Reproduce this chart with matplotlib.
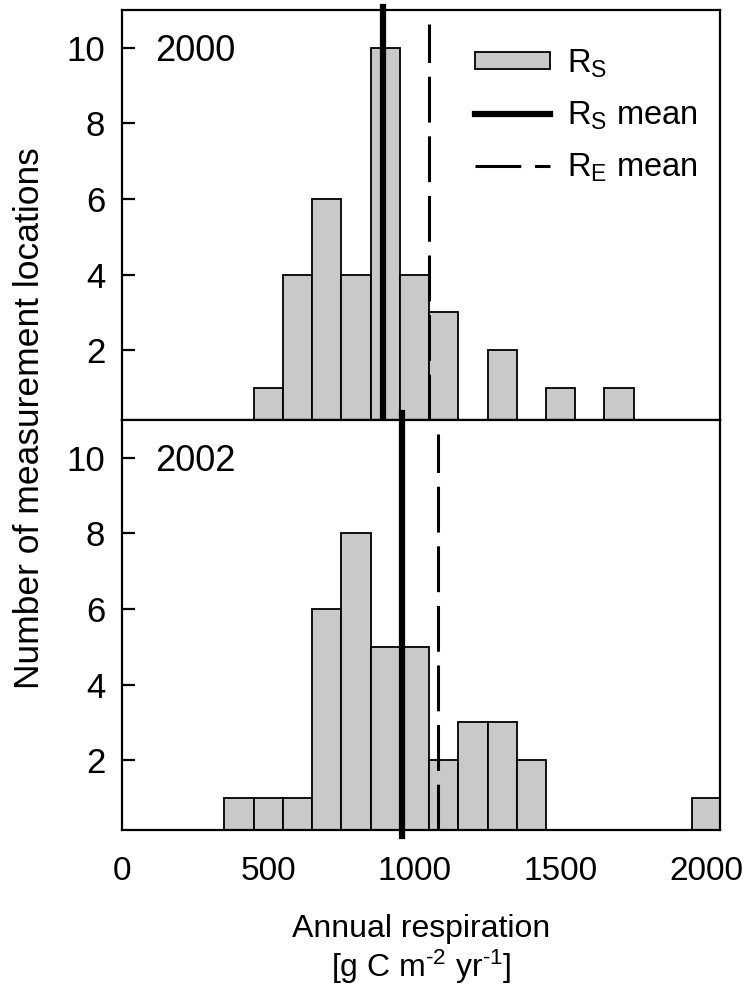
import numpy as np
import matplotlib
matplotlib.use("Agg")
import matplotlib.pyplot as plt
from matplotlib.patches import Patch
from matplotlib.lines import Line2D

plt.rcParams['font.family'] = ['Liberation Sans', 'DejaVu Sans']
plt.rcParams['mathtext.fontset'] = 'custom'
plt.rcParams['mathtext.rm'] = 'Liberation Sans'
plt.rcParams['mathtext.it'] = 'Liberation Sans:italic'

# ---- data ----
bins_2000 = [500, 600, 700, 800, 900, 1000, 1100, 1200, 1300, 1400, 1500, 1600, 1700]
counts_2000 = [1, 4, 6, 4, 10, 4, 3, 0, 2, 0, 1, 0, 1]
rs_mean_2000 = 892
re_mean_2000 = 1051

bins_2002 = [400, 500, 600, 700, 800, 900, 1000, 1100, 1200, 1300, 1400,
             1500, 1600, 1700, 1800, 1900, 2000]
counts_2002 = [1, 1, 1, 6, 8, 5, 5, 2, 3, 3, 2, 0, 0, 0, 0, 0, 1]
rs_mean_2002 = 956
re_mean_2002 = 1081

years = ['2000', '2002']
bin_width = 100
yticks = [2, 4, 6, 8, 10]
xticks = [0, 500, 1000, 1500, 2000]

bar_color = '#c9c9c9'

W, H = 747, 994
fig = plt.figure(figsize=(W / 100, H / 100), dpi=100)
ax1 = fig.add_axes([122 / W, 1 - 420 / H, 598 / W, 410 / H])
ax2 = fig.add_axes([122 / W, 1 - 830 / H, 598 / W, 410 / H])

panels = [
    (ax1, bins_2000, counts_2000, rs_mean_2000, re_mean_2000, years[0]),
    (ax2, bins_2002, counts_2002, rs_mean_2002, re_mean_2002, years[1]),
]

for ax, b, c, rs, re_, yr in panels:
    ax.bar(b, c, width=bin_width, color=bar_color, edgecolor='black',
           linewidth=1.3, zorder=2)
    ax.axvline(re_, ymin=0, ymax=0.965, color='black', lw=2.2,
               dashes=(15, 4.5), zorder=3)
    ax.set_xlim(0, 2045)
    ax.set_ylim(0.15, 11)
    ax.set_yticks(yticks)
    ax.set_xticks(xticks)
    ax.tick_params(axis='y', direction='in', length=9, width=1.6,
                   labelsize=25, pad=12)
    ax.tick_params(axis='x', length=0, labelsize=24, pad=19)
    for sp in ax.spines.values():
        sp.set_linewidth(1.6)
    ax.text(0.055, 0.876, yr, transform=ax.transAxes, fontsize=26,
            ha='left', va='baseline')

# soil respiration means (thick, poke slightly past the frame)
ax1.axvline(rs_mean_2000, ymin=0, ymax=1.008, color='black', lw=4.5,
            zorder=4, clip_on=False)
ax2.axvline(rs_mean_2002, ymin=-0.015, ymax=1.017, color='black', lw=4.5,
            zorder=4, clip_on=False)

ax1.tick_params(axis='x', labelbottom=False)

ax2.set_xlabel('Annual respiration\n[g C m$^{\\text{-2}}$ yr$^{\\text{-1}}$]',
               fontsize=23, labelpad=19, linespacing=1.15)

fig.text(30 / W, 1 - 418 / H, 'Number of measurement locations',
         rotation=90, ha='center', va='center', fontsize=25.5)

handles = [
    Patch(facecolor=bar_color, edgecolor='black', linewidth=1.3),
    Line2D([], [], color='black', lw=4.5),
    Line2D([], [], color='black', lw=2.2, dashes=(15, 4.5)),
]
labels = ['R$_\\mathrm{S}$', 'R$_\\mathrm{S}$ mean', 'R$_\\mathrm{E}$ mean']
ax1.legend(handles, labels, loc='upper right', bbox_to_anchor=(1.0, 0.965),
           frameon=False, fontsize=23.5,
           handlelength=2.3, handleheight=0.45, handletextpad=0.5,
           labelspacing=0.6, borderaxespad=0.3)

fig.savefig('out.png', dpi=100)
